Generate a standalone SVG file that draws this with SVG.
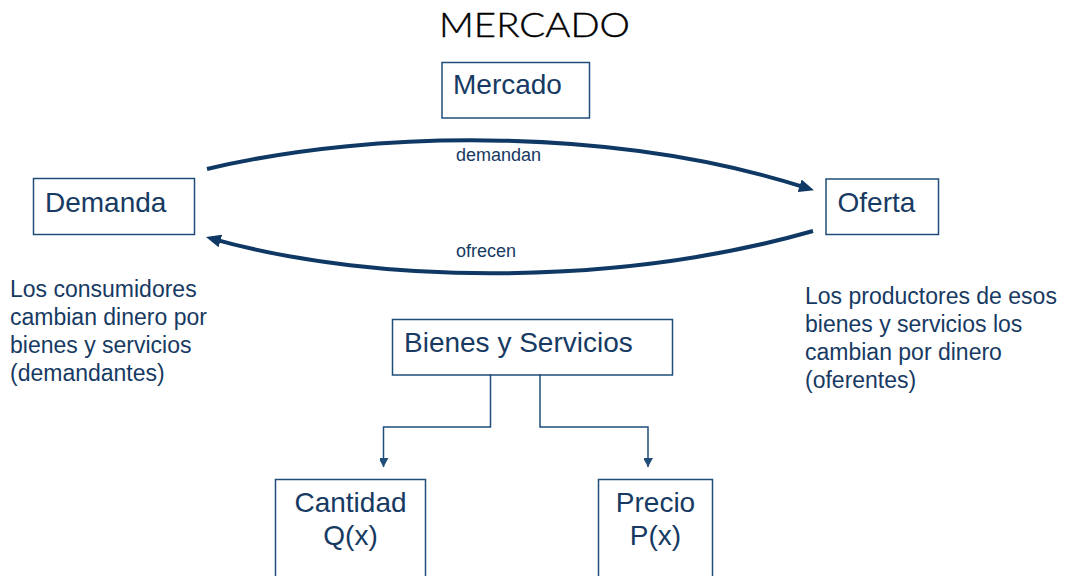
<svg xmlns="http://www.w3.org/2000/svg" width="1066" height="576" viewBox="0 0 1066 576">
<style>
.box{fill:#ffffff;stroke:#1f4e79;stroke-width:1.5}
.lbl{font-family:"Liberation Sans",Arial,sans-serif;font-size:28px;fill:#173a63}
.para{font-family:"Liberation Sans",Arial,sans-serif;font-size:23px;fill:#173a63}
.small{font-family:"Liberation Sans",Arial,sans-serif;font-size:18px;fill:#173a63}
.title{font-family:Lato,"Open Sans","DejaVu Sans",sans-serif;font-size:34px;font-weight:300;fill:#000000;stroke:#000000;stroke-width:0.4}
.curve{fill:none;stroke:#0f3864;stroke-width:4}
.conn{fill:none;stroke:#1f4e79;stroke-width:1.5}
</style>
<defs>
<marker id="bigArrow" markerUnits="userSpaceOnUse" markerWidth="15" markerHeight="13" refX="8" refY="6.5" orient="auto">
<path d="M0,0 L15,6.5 L0,13 z" fill="#0f3864"/>
</marker>
<marker id="smallArrow" markerUnits="userSpaceOnUse" markerWidth="10" markerHeight="9" refX="9" refY="5" orient="auto">
<path d="M0,0 L9,5 L0,10 z" fill="#1f4e79"/>
</marker>
</defs>
<rect x="0" y="0" width="1066" height="576" fill="#ffffff"/>
<text class="title" x="534.5" y="37" text-anchor="middle" textLength="191" lengthAdjust="spacingAndGlyphs">MERCADO</text>

<g id="node-mercado">
<rect class="box" x="442" y="62.5" width="147.5" height="55.5"/>
<text class="lbl" x="453" y="94">Mercado</text>
</g>
<g id="node-demanda">
<rect class="box" x="33.5" y="178.5" width="161" height="56"/>
<text class="lbl" x="45" y="211.5">Demanda</text>
</g>
<g id="node-oferta">
<rect class="box" x="826" y="179" width="112.5" height="55.5"/>
<text class="lbl" x="837.5" y="211.5">Oferta</text>
</g>
<g id="node-bienes">
<rect class="box" x="392.5" y="319.5" width="280" height="55.5"/>
<text class="lbl" x="404" y="351.5">Bienes y Servicios</text>
</g>
<g id="node-cantidad">
<rect class="box" x="275.5" y="479.5" width="150" height="110"/>
<text class="lbl" x="350.5" y="511.5" text-anchor="middle">Cantidad</text>
<text class="lbl" x="350.5" y="545" text-anchor="middle">Q(x)</text>
</g>
<g id="node-precio">
<rect class="box" x="598.5" y="479.5" width="114" height="110"/>
<text class="lbl" x="655.5" y="511.5" text-anchor="middle">Precio</text>
<text class="lbl" x="655.5" y="545" text-anchor="middle">P(x)</text>
</g>

<g id="text-consumidores">
<text class="para" x="10" y="297">Los consumidores</text>
<text class="para" x="10" y="325">cambian dinero por</text>
<text class="para" x="10" y="353">bienes y servicios</text>
<text class="para" x="10" y="381">(demandantes)</text>
</g>
<g id="text-productores">
<text class="para" x="805" y="304">Los productores de esos</text>
<text class="para" x="805" y="332">bienes y servicios los</text>
<text class="para" x="805" y="360">cambian por dinero</text>
<text class="para" x="805" y="388">(oferentes)</text>
</g>

<g id="connectors">
<path class="curve" d="M207,169 C380,128 620,128 807.3,188.2" marker-end="url(#bigArrow)"/>
<text class="small" x="456" y="161">demandan</text>
<path class="curve" d="M813,231 C620,286 380,286 212.7,238.8" marker-end="url(#bigArrow)"/>
<text class="small" x="456" y="257">ofrecen</text>
<path class="conn" d="M490.5,374 V427 H383.5 V467" marker-end="url(#smallArrow)"/>
<path class="conn" d="M540,374 V427 H648 V467" marker-end="url(#smallArrow)"/>
</g>
</svg>
